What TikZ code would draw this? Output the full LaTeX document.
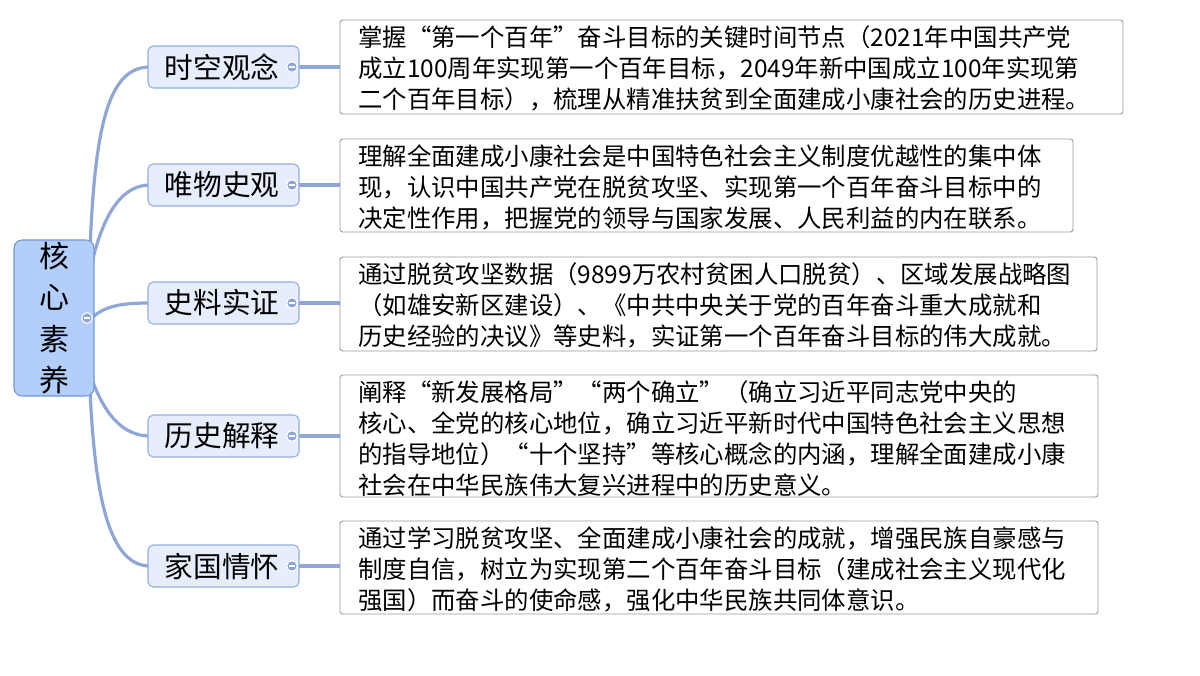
\documentclass[tikz,border=0pt]{standalone}
\usepackage{fontspec}
\newfontfamily\cjk{Noto Sans CJK SC}
\definecolor{rootfill}{HTML}{B3CEFA}
\definecolor{rootdraw}{HTML}{6F97D8}
\definecolor{brfill}{HTML}{E6EEFD}
\definecolor{brdraw}{HTML}{92AEDD}
\definecolor{line}{HTML}{8FA6D6}
\begin{document}
\begin{tikzpicture}[x=0.75pt,y=-0.75pt,
  rootbox/.style={draw=rootdraw,fill=rootfill,rounded corners=6pt,line width=0.8pt},
  brbox/.style={draw=brdraw,fill=brfill,rounded corners=4pt,line width=0.8pt},
  detbox/.style={draw=gray!80,fill=white,rounded corners=2pt,line width=0.7pt},
  conn/.style={draw=line,line width=2.4pt},
  txt/.style={font=\cjk\fontsize{18.3}{23.3}\selectfont,anchor=north west,align=left,inner sep=0pt},
  brtxt/.style={font=\cjk\fontsize{21.5}{24}\selectfont},
  knob/.style={circle,fill=line,draw=white,line width=0.8pt,minimum size=8pt,inner sep=0pt}]
\useasboundingbox (0,0) rectangle (1200,675);
% connectors
\coordinate (r1) at (90,250);
\coordinate (r2) at (92,262);
\coordinate (r3) at (92,318);
\coordinate (r4) at (92,380);
\coordinate (r5) at (90,390);
\draw[conn] (r1) .. controls (95,120) and (110,67) .. (150,67);
\draw[conn] (r2) .. controls (100,230) and (115,185) .. (150,185);
\draw[conn] (r3) .. controls (105,305) and (125,303) .. (150,303);
\draw[conn] (r4) .. controls (100,400) and (115,436) .. (150,436);
\draw[conn] (r5) .. controls (95,500) and (110,566) .. (150,566);
% root
\draw[rootbox] (14,240) rectangle (94,396);
\node[font=\cjk\fontsize{22.5}{31}\selectfont,align=center] (root) at (54,318) {核\\心\\素\\养};
\node[knob] (rk) at (87,318) {};
\draw[white,line width=1.2pt] (84,318) -- (90,318);
% branches
\foreach \n/\y/\t in {b1/67/时空观念, b2/185/唯物史观, b3/303/史料实证, b4/436/历史解释, b5/566/家国情怀}{
  \draw[conn] (299,\y) -- (340,\y);
  \draw[brbox] (148,\y-21) rectangle (299,\y+21);
  \node[brtxt] (\n) at (222,\y) {\t};
  \node[knob] (k\n) at (292,\y) {};
  \draw[white,line width=1.2pt] (289,\y) -- (295,\y);
}
% detail boxes
\draw[detbox] (340,20) rectangle (1123,114);
\node[txt] (d1) at (358,25) {掌握“第一个百年”奋斗目标的关键时间节点（2021年中国共产党\\成立100周年实现第一个百年目标，2049年新中国成立100年实现第\\二个百年目标），梳理从精准扶贫到全面建成小康社会的历史进程。};
\draw[detbox] (340,139) rectangle (1073,232);
\node[txt] (d2) at (358,144) {理解全面建成小康社会是中国特色社会主义制度优越性的集中体\\现，认识中国共产党在脱贫攻坚、实现第一个百年奋斗目标中的\\决定性作用，把握党的领导与国家发展、人民利益的内在联系。};
\draw[detbox] (340,257) rectangle (1097,351);
\node[txt] (d3) at (358,262) {通过脱贫攻坚数据（9899万农村贫困人口脱贫）、区域发展战略图\\（如雄安新区建设）、《中共中央关于党的百年奋斗重大成就和\\历史经验的决议》等史料，实证第一个百年奋斗目标的伟大成就。};
\draw[detbox] (340,375) rectangle (1098,497);
\node[txt] (d4) at (358,380) {阐释“新发展格局”“两个确立”（确立习近平同志党中央的\\核心、全党的核心地位，确立习近平新时代中国特色社会主义思想\\的指导地位）“十个坚持”等核心概念的内涵，理解全面建成小康\\社会在中华民族伟大复兴进程中的历史意义。};
\draw[detbox] (340,521) rectangle (1098,614);
\node[txt] (d5) at (358,526) {通过学习脱贫攻坚、全面建成小康社会的成就，增强民族自豪感与\\制度自信，树立为实现第二个百年奋斗目标（建成社会主义现代化\\强国）而奋斗的使命感，强化中华民族共同体意识。};
\end{tikzpicture}
\end{document}
